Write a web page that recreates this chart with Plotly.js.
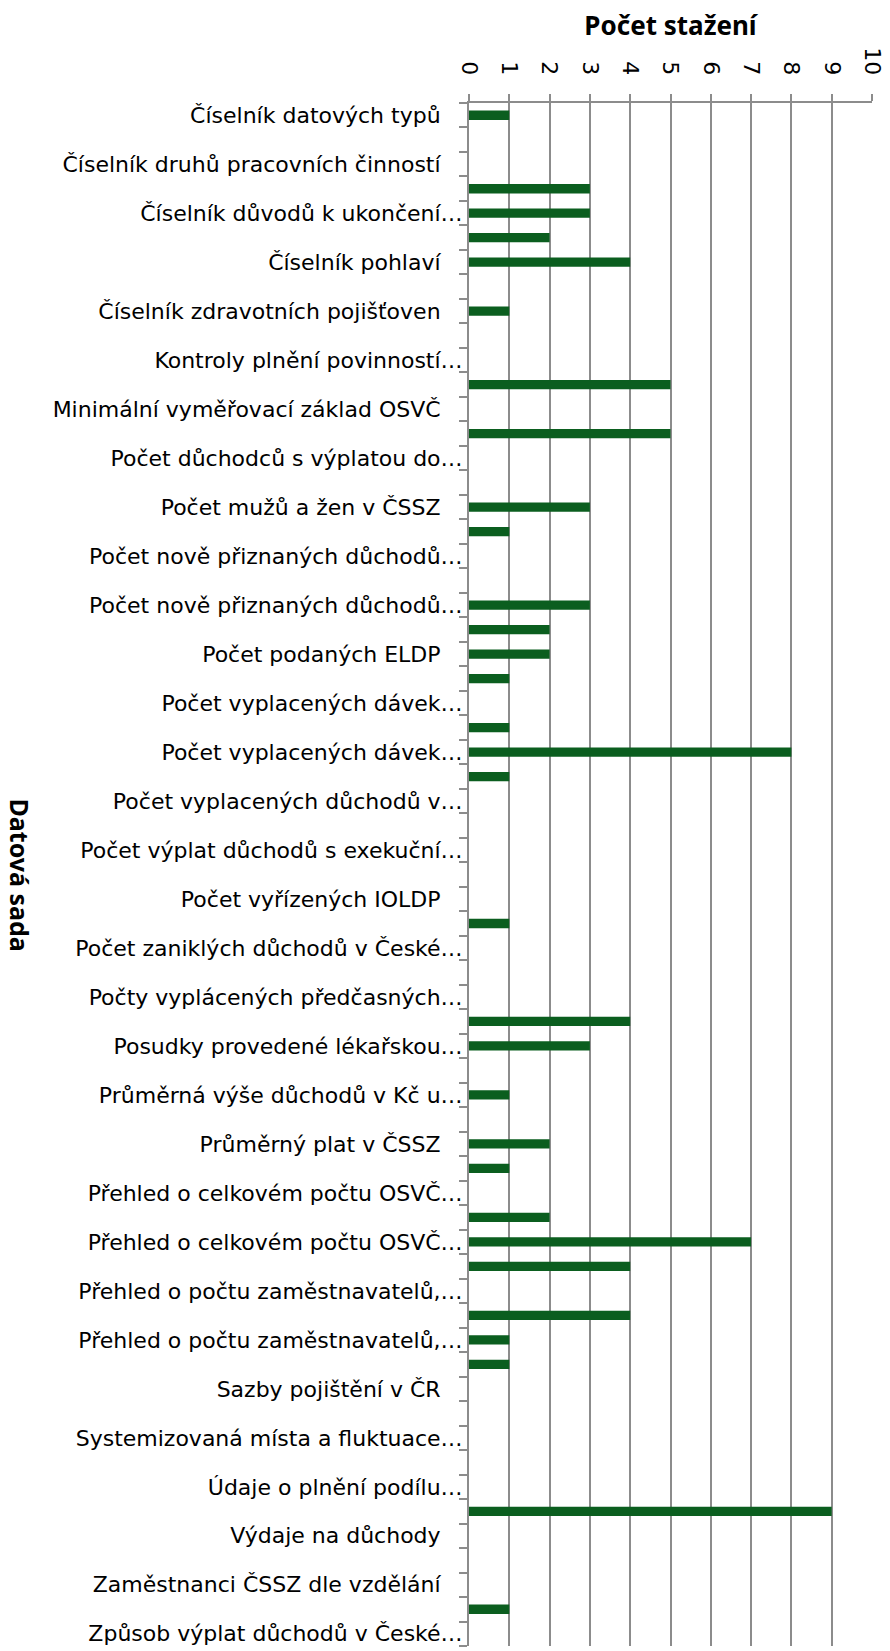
<!DOCTYPE html>
<html>
<head>
<meta charset="utf-8">
<script src="https://cdn.plot.ly/plotly-3.0.1.min.js"></script>
<style>
  html, body { margin: 0; padding: 0; background: #ffffff; }
  #chart { width: 890px; height: 1651px; }
</style>
</head>
<body>
<div id="chart"></div>
<script>
// Labels shown on the category axis (every second category is labelled)
const labels = [
  "Číselník datových typů",
  "Číselník druhů pracovních činností",
  "Číselník důvodů k ukončení…",
  "Číselník pohlaví",
  "Číselník zdravotních pojišťoven",
  "Kontroly plnění povinností…",
  "Minimální vyměřovací základ OSVČ",
  "Počet důchodců s výplatou do…",
  "Počet mužů a žen v ČSSZ",
  "Počet nově přiznaných důchodů…",
  "Počet nově přiznaných důchodů…",
  "Počet podaných ELDP",
  "Počet vyplacených dávek…",
  "Počet vyplacených dávek…",
  "Počet vyplacených důchodů v…",
  "Počet výplat důchodů s exekuční…",
  "Počet vyřízených IOLDP",
  "Počet zaniklých důchodů v České…",
  "Počty vyplácených předčasných…",
  "Posudky provedené lékařskou…",
  "Průměrná výše důchodů v Kč u…",
  "Průměrný plat v ČSSZ",
  "Přehled o celkovém počtu OSVČ…",
  "Přehled o celkovém počtu OSVČ…",
  "Přehled o počtu zaměstnavatelů,…",
  "Přehled o počtu zaměstnavatelů,…",
  "Sazby pojištění v ČR",
  "Systemizovaná místa a fluktuace…",
  "Údaje o plnění podílu…",
  "Výdaje na důchody",
  "Zaměstnanci ČSSZ dle vzdělání",
  "Způsob výplat důchodů v České…"
];

// Number of downloads per category (63 categories, top to bottom)
const downloads = [
  1, 0, 0, 3, 3, 2, 4, 0, 1, 0,
  0, 5, 0, 5, 0, 0, 3, 1, 0, 0,
  3, 2, 2, 1, 0, 1, 8, 1, 0, 0,
  0, 0, 0, 1, 0, 0, 0, 4, 3, 0,
  1, 0, 2, 1, 0, 2, 7, 4, 0, 4,
  1, 1, 0, 0, 0, 0, 0, 9, 0, 0,
  0, 1, 0
];

const xTicks = [0, 1, 2, 3, 4, 5, 6, 7, 8, 9, 10];

const titleText = "Počet stažení";
const yTitleText = "Datová sada";

// ---- build ----
const n = downloads.length;
const catPos = downloads.map((_, i) => i);
const labelPos = labels.map((_, i) => i * 2);
const pad = "\u2002\u2002";
const labelText = labels.map(s => s.endsWith("…") ? s : s + pad);
const boundaries = catPos.map(i => i - 0.5).concat([n - 0.5]);

const gray = "#8c8c8c";
const M = { l: 469, r: 18, t: 103, b: 5 };
const W = 890, H = 1651;
const plotW = W - M.l - M.r;

const trace = {
  type: "bar",
  orientation: "h",
  x: downloads,
  y: catPos,
  width: 0.38,
  marker: { color: "#0b5e1f", line: { width: 0 } },
  hoverinfo: "x"
};

const layout = {
  width: W,
  height: H,
  margin: M,
  paper_bgcolor: "#ffffff",
  plot_bgcolor: "#ffffff",
  showlegend: false,
  font: { family: "DejaVu Sans, sans-serif", color: "#000000" },
  title: {
    text: "<b>" + titleText + "</b>",
    font: { family: "Noto Sans, sans-serif", size: 26, color: "#000000" },
    x: 0.5, xref: "paper", xanchor: "center",
    y: 1 - 26 / H, yref: "container", yanchor: "middle"
  },
  xaxis: {
    side: "top",
    range: [0, 10],
    tickmode: "array",
    tickvals: xTicks,
    ticktext: xTicks.map(String),
    tickangle: 90,
    ticks: "outside",
    ticklen: 7,
    tickwidth: 2,
    tickcolor: gray,
    ticklabelstandoff: 11,
    tickfont: { family: "DejaVu Sans, sans-serif", size: 22, color: "#000000" },
    showgrid: true,
    gridcolor: gray,
    gridwidth: 2,
    showline: true,
    linecolor: gray,
    linewidth: 2,
    zeroline: false,
    fixedrange: true
  },
  yaxis: {
    range: [n - 0.5, -0.5],
    tickmode: "array",
    tickvals: labelPos,
    ticktext: labelText,
    ticks: "",
    ticklabelstandoff: 0,
    tickfont: { family: "DejaVu Sans, sans-serif", size: 22, color: "#000000" },
    showgrid: false,
    showline: true,
    linecolor: gray,
    linewidth: 2,
    zeroline: false,
    fixedrange: true,
    minor: {
      tickmode: "array",
      tickvals: boundaries,
      ticks: "outside",
      ticklen: 8,
      tickwidth: 2,
      tickcolor: gray,
      showgrid: false
    }
  },
  annotations: [{
    text: "<b>" + yTitleText + "</b>",
    textangle: 90,
    font: { family: "Noto Sans, sans-serif", size: 25, color: "#000000" },
    xref: "paper", yref: "paper",
    x: (20 - M.l) / plotW, y: 0.5,
    xanchor: "center", yanchor: "middle",
    showarrow: false
  }]
};

Plotly.newPlot("chart", [trace], layout, { displayModeBar: false, staticPlot: true });
</script>
</body>
</html>
